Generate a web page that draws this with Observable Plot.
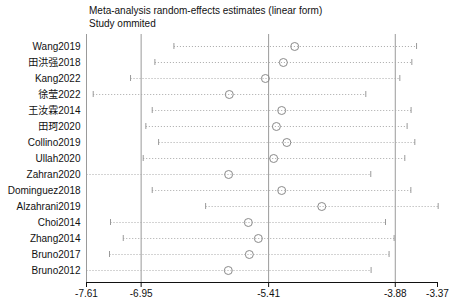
<!DOCTYPE html>
<html>
<head>
<meta charset="utf-8">
<script src="https://cdn.jsdelivr.net/npm/d3@7"></script>
<script src="https://cdn.jsdelivr.net/npm/@observablehq/plot@0.6"></script>
<style>
  html, body { margin: 0; padding: 0; background: #fff; }
  body { width: 468px; height: 305px; overflow: hidden; font-family: "Liberation Sans", Arial, "Noto Sans CJK SC", sans-serif; }
  #title { padding-left: 89px; font-size: 10px; line-height: 13px; padding-top: 4px; height: 26px; color: #111; }
  svg { display: block; }
</style>
</head>
<body>
<div id="title">Meta-analysis random-effects estimates (linear form)<br>Study ommited</div>
<div id="chart"></div>
<script>
const studies = ["Wang2019","田洪强2018","Kang2022","徐莹2022","王汝霖2014","田珂2020","Collino2019","Ullah2020","Zahran2020","Dominguez2018","Alzahrani2019","Choi2014","Zhang2014","Bruno2017","Bruno2012"];
const estimates = [-5.095,-5.232,-5.449,-5.885,-5.252,-5.316,-5.19,-5.349,-5.893,-5.252,-4.768,-5.655,-5.534,-5.643,-5.897];
const lower = [-6.554,-6.784,-7.078,-7.529,-6.816,-6.893,-6.739,-6.925,-7.61,-6.816,-6.171,-7.32,-7.166,-7.332,-7.61];
const upper = [-3.623,-3.680,-3.825,-4.236,-3.689,-3.737,-3.644,-3.765,-4.176,-3.692,-3.362,-3.998,-3.894,-3.955,-4.172];
const tickValues = [-7.61,-6.95,-5.41,-3.88,-3.37];
const refLines = [-6.95,-5.41,-3.88];
const axisMin = [-7.61];

const rows = studies.map((s, i) => ({study: s, est: estimates[i], lo: lower[i], hi: upper[i]}));

const plot = Plot.plot({
  width: 468,
  height: 279,
  marginTop: 4,
  marginBottom: 27,
  marginLeft: 86,
  marginRight: 31,
  style: {fontFamily: '"Liberation Sans", Arial, "Noto Sans CJK SC", sans-serif', fontSize: "10px", color: "#111", background: "#fff"},
  x: {domain: [-7.61, -3.37], ticks: tickValues, tickFormat: d => d.toFixed(2), tickSize: 5, tickPadding: 2, label: null, line: true},
  y: {type: "band", domain: studies, padding: 0, label: null, tickSize: 0, tickPadding: 6},
  marks: [
    Plot.ruleX(refLines, {stroke: "#9a9a9a", strokeWidth: 1}),
    Plot.ruleX(axisMin, {stroke: "#9a9a9a", strokeWidth: 1}),
    Plot.link(rows, {x1: "lo", x2: "hi", y1: "study", y2: "study", stroke: "#a8a8a8", strokeWidth: 1, strokeDasharray: "1,2"}),
    Plot.tickX(rows, {x: "lo", y: "study", stroke: "#9a9a9a", strokeWidth: 1, insetTop: 5, insetBottom: 5}),
    Plot.tickX(rows, {x: "hi", y: "study", stroke: "#9a9a9a", strokeWidth: 1, insetTop: 5, insetBottom: 5}),
    Plot.dot(rows, {x: "est", y: "study", r: 4, stroke: "#8a8a8a", fill: "none", strokeWidth: 1})
  ]
});

document.getElementById("chart").appendChild(plot);
</script>
</body>
</html>
